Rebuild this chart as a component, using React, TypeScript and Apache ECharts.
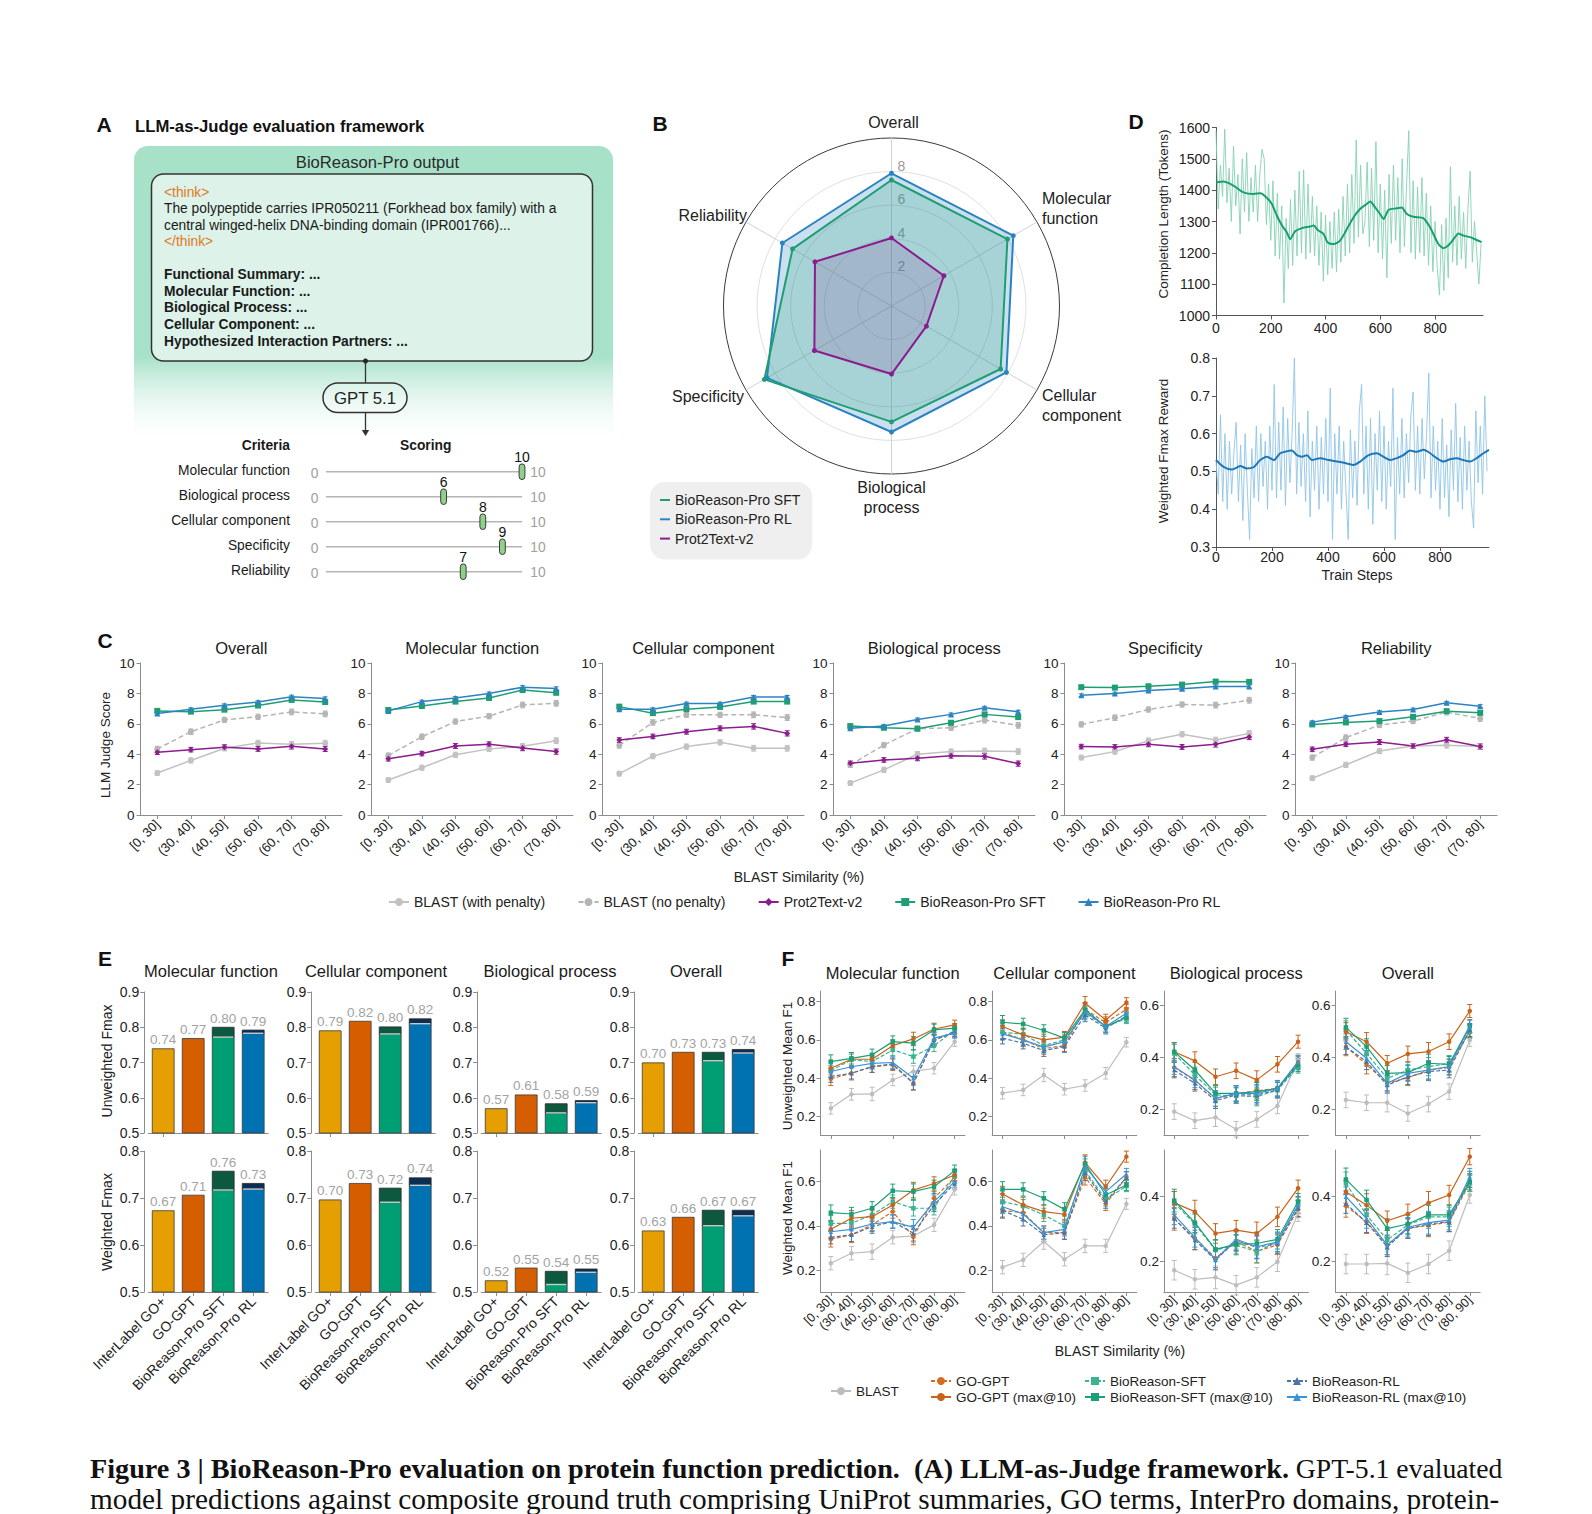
import React, { useEffect, useRef } from 'react';
import * as echarts from 'echarts';

const FONT = '"Liberation Sans", Arial, Helvetica, sans-serif';
const SERIF = '"Liberation Serif", "Times New Roman", Times, serif';

/* ---------------- Panel A ---------------- */
const A_THINK_LINES = [
  'The polypeptide carries IPR050211 (Forkhead box family) with a',
  'central winged-helix DNA-binding domain (IPR001766)...',
];
const A_SECTIONS = [
  'Functional Summary: ...',
  'Molecular Function: ...',
  'Biological Process: ...',
  'Cellular Component: ...',
  'Hypothesized Interaction Partners: ...',
];
const CRITERIA = ['Molecular function', 'Biological process', 'Cellular component', 'Specificity', 'Reliability'];
const CRITERIA_SCORES = [10, 6, 8, 9, 7];
const SCORE_MAX = 10;

/* ---------------- Panel B (radar) ---------------- */
const RADAR_AXES = ['Overall', 'Reliability', 'Specificity', 'Biological\nprocess', 'Cellular\ncomponent', 'Molecular\nfunction'];
const RADAR_SFT = [7.5, 6.8, 8.74, 6.9, 7.5, 7.97];
const RADAR_RL = [7.9, 7.5, 8.56, 7.5, 7.9, 8.37];
const RADAR_PROT = [4.05, 5.26, 5.3, 4.05, 2.4, 3.6];
const RADAR_TICKS = [2, 4, 6, 8];
const RADAR_MAX = 10;

/* ---------------- Panel C ---------------- */
const C_TITLES = ['Overall', 'Molecular function', 'Cellular component', 'Biological process', 'Specificity', 'Reliability'];
const C_CATS = ['[0, 30]', '(30, 40]', '(40, 50]', '(50, 60]', '(60, 70]', '(70, 80]'];
const C_BLAST_WP = [
  [2.76, 3.59, 4.39, 4.74, 4.65, 4.72],
  [2.3, 3.11, 3.96, 4.35, 4.52, 4.89],
  [2.72, 3.87, 4.5, 4.78, 4.39, 4.39],
  [2.1, 2.97, 4.0, 4.17, 4.21, 4.17],
  [3.78, 4.17, 4.89, 5.31, 4.93, 5.37],
  [2.42, 3.3, 4.21, 4.54, 4.59, 4.5],
];
const C_BLAST_NP = [
  [4.35, 5.48, 6.26, 6.46, 6.78, 6.65],
  [3.91, 5.15, 6.15, 6.5, 7.24, 7.35],
  [4.57, 6.09, 6.59, 6.59, 6.59, 6.41],
  [3.3, 4.6, 5.68, 5.74, 6.24, 5.9],
  [5.96, 6.4, 6.94, 7.27, 7.23, 7.55],
  [3.78, 5.09, 5.92, 6.18, 6.77, 6.35],
];
const C_PROT = [
  [4.13, 4.3, 4.46, 4.35, 4.52, 4.35],
  [3.7, 4.04, 4.54, 4.65, 4.41, 4.17],
  [4.93, 5.17, 5.48, 5.7, 5.83, 5.37],
  [3.4, 3.62, 3.73, 3.9, 3.86, 3.38],
  [4.5, 4.48, 4.65, 4.48, 4.65, 5.13],
  [4.32, 4.65, 4.8, 4.54, 4.93, 4.5],
];
const C_SFT = [
  [6.85, 6.8, 6.93, 7.2, 7.57, 7.43],
  [6.91, 7.17, 7.46, 7.7, 8.22, 8.04],
  [7.13, 6.7, 6.96, 7.11, 7.46, 7.46],
  [5.85, 5.74, 5.68, 6.07, 6.62, 6.44],
  [8.41, 8.38, 8.47, 8.58, 8.78, 8.76],
  [5.96, 6.09, 6.18, 6.46, 6.83, 6.72],
];
const C_RL = [
  [6.67, 6.96, 7.22, 7.43, 7.78, 7.67],
  [6.85, 7.46, 7.7, 8.0, 8.41, 8.33],
  [6.96, 6.96, 7.33, 7.33, 7.76, 7.76],
  [5.7, 5.85, 6.29, 6.62, 7.05, 6.79],
  [7.88, 7.99, 8.19, 8.3, 8.45, 8.45],
  [6.11, 6.46, 6.77, 6.94, 7.38, 7.16],
];
const C_ERR_WP = [0.15, 0.17, 0.17, 0.17, 0.19, 0.19];
const C_ERR_NP = [0.17, 0.18, 0.17, 0.17, 0.19, 0.19];
const C_ERR_PROT = [0.15, 0.15, 0.16, 0.16, 0.18, 0.17];
const C_ERR_SFT = [0.09, 0.09, 0.09, 0.09, 0.1, 0.1];
const C_ERR_RL = [0.09, 0.09, 0.09, 0.09, 0.1, 0.1];

/* ---------------- Panel D ---------------- */
const D_STEP = 8;
const D_LEN_RAW = [1590, 1340, 1480, 1380, 1595, 1360, 1470, 1300, 1540, 1350, 1450, 1260, 1500, 1330, 1520, 1300, 1440, 1330, 1480, 1300, 1450, 1530, 1500, 1290, 1420, 1240, 1430, 1190, 1390, 1180, 1350, 1040, 1310, 1150, 1370, 1160, 1400, 1190, 1460, 1200, 1465, 1180, 1420, 1200, 1380, 1190, 1350, 1160, 1330, 1110, 1320, 1130, 1300, 1150, 1330, 1140, 1340, 1170, 1380, 1190, 1420, 1200, 1450, 1230, 1560, 1250, 1480, 1260, 1300, 1490, 1220, 1470, 1240, 1555, 1200, 1420, 1180, 1400, 1120, 1450, 1230, 1480, 1240, 1440, 1200, 1500, 1220, 1420, 1590, 1200, 1430, 1180, 1410, 1200, 1440, 1190, 1390, 1160, 1350, 1140, 1300, 1150, 1065, 1290, 1080, 1310, 1120, 1475, 1170, 1350, 1160, 1380, 1180, 1330, 1150, 1340, 1460, 1170, 1300, 1200, 1100, 1230];
const D_LEN_SMOOTH_STEPS = [0, 28, 52, 70, 100, 137, 162, 186, 204, 222, 241, 259, 271, 289, 314, 344, 356, 374, 393, 407, 429, 453, 478, 502, 526, 551, 563, 581, 599, 612, 630, 660, 678, 697, 721, 757, 782, 812, 830, 849, 873, 885, 903, 928, 952, 970];
const D_LEN_SMOOTH = [1425, 1428, 1420, 1411, 1393, 1388, 1390, 1375, 1356, 1319, 1287, 1265, 1244, 1269, 1279, 1284, 1287, 1271, 1260, 1234, 1228, 1239, 1276, 1313, 1340, 1356, 1364, 1345, 1324, 1308, 1337, 1342, 1345, 1324, 1315, 1311, 1281, 1228, 1215, 1224, 1250, 1262, 1255, 1250, 1241, 1234];
const D_REW_RAW = [0.53, 0.44, 0.65, 0.42, 0.6, 0.4, 0.58, 0.44, 0.55, 0.63, 0.42, 0.57, 0.37, 0.6, 0.45, 0.32, 0.56, 0.43, 0.62, 0.42, 0.6, 0.46, 0.58, 0.4, 0.62, 0.45, 0.73, 0.43, 0.63, 0.45, 0.67, 0.41, 0.64, 0.47, 0.6, 0.8, 0.44, 0.63, 0.46, 0.6, 0.42, 0.66, 0.38, 0.58, 0.45, 0.62, 0.4, 0.59, 0.44, 0.64, 0.42, 0.72, 0.32, 0.6, 0.44, 0.62, 0.4, 0.58, 0.45, 0.32, 0.61, 0.43, 0.58, 0.41, 0.66, 0.73, 0.44, 0.62, 0.4, 0.64, 0.36, 0.6, 0.45, 0.66, 0.42, 0.62, 0.4, 0.58, 0.46, 0.72, 0.32, 0.59, 0.44, 0.64, 0.43, 0.6, 0.47, 0.65, 0.71, 0.45, 0.62, 0.44, 0.64, 0.48, 0.6, 0.76, 0.43, 0.62, 0.45, 0.58, 0.4, 0.64, 0.43, 0.57, 0.38, 0.61, 0.45, 0.68, 0.42, 0.59, 0.4, 0.62, 0.45, 0.58, 0.42, 0.35, 0.66, 0.47, 0.62, 0.44, 0.7, 0.5];
const D_REW_SMOOTH_STEPS = [0, 27, 57, 87, 110, 134, 158, 182, 206, 229, 247, 271, 289, 307, 325, 342, 372, 402, 432, 467, 491, 515, 545, 574, 598, 622, 646, 669, 693, 717, 741, 765, 788, 812, 836, 860, 883, 907, 931, 955, 975];
const D_REW_SMOOTH = [0.53, 0.512, 0.505, 0.514, 0.508, 0.511, 0.53, 0.539, 0.53, 0.548, 0.552, 0.555, 0.543, 0.539, 0.543, 0.53, 0.535, 0.53, 0.526, 0.521, 0.517, 0.526, 0.543, 0.548, 0.539, 0.53, 0.535, 0.543, 0.555, 0.552, 0.557, 0.548, 0.535, 0.526, 0.532, 0.535, 0.53, 0.526, 0.535, 0.548, 0.557];
const D_XTICKS = [0, 200, 400, 600, 800];

/* ---------------- Panel E ---------------- */
const E_TITLES = ['Molecular function', 'Cellular component', 'Biological process', 'Overall'];
const E_MODELS = ['InterLabel GO+', 'GO-GPT', 'BioReason-Pro SFT', 'BioReason-Pro RL'];
const E_IL_U = [0.739, 0.79, 0.569, 0.699];
const E_GO_U = [0.768, 0.817, 0.608, 0.729];
const E_SFT_U_BASE = [0.772, 0.781, 0.557, 0.705];
const E_SFT_U = [0.8, 0.801, 0.583, 0.729];
const E_RL_U_BASE = [0.783, 0.81, 0.586, 0.727];
const E_RL_U = [0.792, 0.824, 0.592, 0.737];
const E_IL_W = [0.673, 0.696, 0.524, 0.63];
const E_GO_W = [0.706, 0.731, 0.551, 0.659];
const E_SFT_W_BASE = [0.717, 0.691, 0.516, 0.641];
const E_SFT_W = [0.757, 0.721, 0.544, 0.674];
const E_RL_W_BASE = [0.719, 0.727, 0.542, 0.662];
const E_RL_W = [0.731, 0.743, 0.549, 0.674];

/* ---------------- Panel F ---------------- */
const F_TITLES = ['Molecular function', 'Cellular component', 'Biological process', 'Overall'];
const F_CATS = ['[0, 30]', '(30, 40]', '(40, 50]', '(50, 60]', '(60, 70]', '(70, 80]', '(80, 90]'];
// rows: unweighted MF, CC, BP, Overall, weighted MF, CC, BP, Overall
const F_BLAST = [
  [0.243, 0.316, 0.318, 0.391, 0.435, 0.452, 0.591],
  [0.322, 0.339, 0.417, 0.343, 0.362, 0.426, 0.588],
  [0.19, 0.155, 0.168, 0.122, 0.16, 0.212, 0.388],
  [0.235, 0.224, 0.224, 0.183, 0.219, 0.267, 0.465],
  [0.232, 0.277, 0.284, 0.349, 0.355, 0.405, 0.565],
  [0.214, 0.247, 0.33, 0.25, 0.31, 0.31, 0.5],
  [0.172, 0.144, 0.15, 0.126, 0.15, 0.198, 0.347],
  [0.191, 0.191, 0.193, 0.164, 0.191, 0.232, 0.403],
];
const F_GO = [
  [0.397, 0.426, 0.46, 0.47, 0.374, 0.6, 0.635],
  [0.64, 0.6, 0.555, 0.57, 0.76, 0.69, 0.76],
  [0.36, 0.31, 0.24, 0.26, 0.27, 0.28, 0.38],
  [0.44, 0.37, 0.3, 0.32, 0.35, 0.36, 0.5],
  [0.34, 0.36, 0.405, 0.465, 0.35, 0.525, 0.62],
  [0.47, 0.46, 0.37, 0.37, 0.62, 0.5, 0.62],
  [0.33, 0.27, 0.21, 0.26, 0.23, 0.25, 0.36],
  [0.37, 0.32, 0.25, 0.3, 0.31, 0.32, 0.44],
];
const F_GO_MAX = [
  [0.452, 0.499, 0.499, 0.57, 0.605, 0.657, 0.678],
  [0.67, 0.626, 0.6, 0.614, 0.791, 0.704, 0.795],
  [0.42, 0.385, 0.324, 0.347, 0.312, 0.372, 0.459],
  [0.497, 0.459, 0.376, 0.412, 0.421, 0.459, 0.577],
  [0.385, 0.435, 0.442, 0.495, 0.562, 0.592, 0.63],
  [0.544, 0.495, 0.465, 0.453, 0.686, 0.577, 0.713],
  [0.379, 0.352, 0.285, 0.295, 0.285, 0.336, 0.424],
  [0.413, 0.372, 0.324, 0.345, 0.379, 0.403, 0.521],
];
const F_SFT = [
  [0.44, 0.496, 0.487, 0.548, 0.513, 0.569, 0.652],
  [0.64, 0.63, 0.57, 0.6, 0.74, 0.67, 0.71],
  [0.414, 0.331, 0.254, 0.251, 0.247, 0.273, 0.363],
  [0.504, 0.414, 0.318, 0.35, 0.363, 0.376, 0.497],
  [0.412, 0.412, 0.45, 0.51, 0.48, 0.48, 0.626],
  [0.51, 0.49, 0.45, 0.4, 0.65, 0.52, 0.58],
  [0.379, 0.314, 0.234, 0.249, 0.229, 0.259, 0.372],
  [0.439, 0.342, 0.265, 0.311, 0.336, 0.336, 0.439],
];
const F_SFT_MAX = [
  [0.487, 0.504, 0.522, 0.591, 0.583, 0.652, 0.661],
  [0.692, 0.683, 0.649, 0.609, 0.757, 0.67, 0.717],
  [0.42, 0.35, 0.26, 0.26, 0.267, 0.279, 0.369],
  [0.514, 0.44, 0.337, 0.34, 0.376, 0.372, 0.519],
  [0.46, 0.454, 0.48, 0.559, 0.555, 0.577, 0.65],
  [0.565, 0.565, 0.525, 0.475, 0.68, 0.54, 0.585],
  [0.386, 0.318, 0.236, 0.252, 0.254, 0.267, 0.383],
  [0.451, 0.388, 0.3, 0.314, 0.342, 0.342, 0.444],
];
const F_RL = [
  [0.409, 0.426, 0.461, 0.475, 0.374, 0.6, 0.643],
  [0.609, 0.583, 0.544, 0.565, 0.73, 0.661, 0.725],
  [0.35, 0.299, 0.232, 0.254, 0.254, 0.273, 0.376],
  [0.44, 0.382, 0.292, 0.324, 0.344, 0.35, 0.504],
  [0.349, 0.36, 0.397, 0.42, 0.367, 0.495, 0.592],
  [0.47, 0.43, 0.36, 0.37, 0.64, 0.51, 0.62],
  [0.331, 0.265, 0.203, 0.263, 0.242, 0.254, 0.362],
  [0.377, 0.318, 0.244, 0.3, 0.314, 0.321, 0.451],
];
const F_RL_MAX = [
  [0.435, 0.46, 0.478, 0.482, 0.4, 0.609, 0.635],
  [0.631, 0.6, 0.562, 0.591, 0.748, 0.67, 0.739],
  [0.363, 0.312, 0.241, 0.26, 0.26, 0.279, 0.382],
  [0.459, 0.395, 0.299, 0.337, 0.35, 0.363, 0.517],
  [0.374, 0.385, 0.409, 0.42, 0.394, 0.51, 0.6],
  [0.487, 0.454, 0.37, 0.385, 0.668, 0.555, 0.635],
  [0.342, 0.273, 0.205, 0.267, 0.244, 0.259, 0.372],
  [0.398, 0.331, 0.249, 0.304, 0.318, 0.326, 0.46],
];
const F_ERR_BLAST = [0.03, 0.03, 0.035, 0.03, 0.03, 0.03, 0.025];
const F_ERR_GO = [0.035, 0.035, 0.03, 0.03, 0.035, 0.03, 0.025];
const F_ERR_SFT = [0.035, 0.03, 0.03, 0.03, 0.035, 0.03, 0.025];
const F_ERR_RL = [0.03, 0.03, 0.03, 0.03, 0.035, 0.03, 0.025];
const F_YMIN = [0.104, 0.104, 0.1, 0.1, 0.102, 0.102, 0.105, 0.105];
const F_YMAX = [0.855, 0.855, 0.654, 0.654, 0.743, 0.743, 0.5415, 0.5415];
const F_YTICKS = [
  [0.2, 0.4, 0.6, 0.8], [0.2, 0.4, 0.6, 0.8], [0.2, 0.4, 0.6], [0.2, 0.4, 0.6],
  [0.2, 0.4, 0.6], [0.2, 0.4, 0.6], [0.2, 0.4], [0.2, 0.4],
];

/* ---------------- Caption ---------------- */
const CAPTION_BOLD = 'Figure 3 | BioReason-Pro evaluation on protein function prediction.  (A) LLM-as-Judge framework.';
const CAPTION_REST = ' GPT-5.1 evaluated';
const CAPTION_LINE2 = 'model predictions against composite ground truth comprising UniProt summaries, GO terms, InterPro domains, protein-';

/* ---------------- styling ---------------- */
const COL_SFT = '#1f9e75';
const COL_RL = '#2c83c1';
const COL_PROT = '#8b1d8d';
const E_COLORS = ['#E69F00', '#D55E00', '#009E73', '#0072B2'];
const E_DARK = ['#E69F00', '#D55E00', '#0c5940', '#0b2f52'];
const AX = '#8c8c8c';

const txt = (x: number, y: number, text: string, o: any = {}) => ({
  type: 'text',
  x,
  y,
  rotation: o.rot || 0,
  silent: true,
  style: {
    text,
    fill: o.fill || '#222',
    fontSize: o.size || 14,
    fontFamily: o.family || FONT,
    fontWeight: o.weight || 'normal',
    textAlign: o.align || 'left',
    textVerticalAlign: o.valign || 'middle',
    lineHeight: o.lh,
  },
});

function makeErrRender(colors: string[]) {
  return (params: any, api: any) => {
    const k = api.value(0);
    const v = api.value(1);
    const e = api.value(2);
    const si = api.value(3);
    const a = api.coord([k, v - e]);
    const b = api.coord([k, v + e]);
    const c = colors[si];
    const cap = 2.5;
    return {
      type: 'group',
      children: [
        { type: 'line', shape: { x1: a[0], y1: a[1], x2: b[0], y2: b[1] }, style: { stroke: c, lineWidth: 1 } },
        { type: 'line', shape: { x1: a[0] - cap, y1: a[1], x2: a[0] + cap, y2: a[1] }, style: { stroke: c, lineWidth: 1 } },
        { type: 'line', shape: { x1: b[0] - cap, y1: b[1], x2: b[0] + cap, y2: b[1] }, style: { stroke: c, lineWidth: 1 } },
      ],
    };
  };
}

function makeBarRender(yMin: number) {
  return (params: any, api: any) => {
    const k = api.value(0);
    const lo = api.value(1);
    const hi = api.value(2);
    const ci = api.value(3);
    const base = api.coord([k, yMin]);
    const pLo = api.coord([k, lo]);
    const pHi = api.coord([k, hi]);
    const bw = api.size([1, 0])[0] * 0.73;
    const x0 = base[0] - bw / 2;
    const children: any[] = [
      { type: 'rect', shape: { x: x0, y: pLo[1], width: bw, height: base[1] - pLo[1] }, style: { fill: E_COLORS[ci], stroke: '#3a3a3a', lineWidth: 0.8 } },
    ];
    if (hi > lo + 1e-9) {
      children.push({ type: 'rect', shape: { x: x0, y: pHi[1], width: bw, height: pLo[1] - pHi[1] }, style: { fill: E_DARK[ci], stroke: '#2a2a2a', lineWidth: 0.8 } });
      children.push({ type: 'line', shape: { x1: x0 + 0.8, y1: pLo[1], x2: x0 + bw - 0.8, y2: pLo[1] }, style: { stroke: 'rgba(255,255,255,0.75)', lineWidth: 1.4 } });
    }
    children.push({
      type: 'text',
      x: base[0],
      y: pHi[1] - 2,
      style: { text: hi.toFixed(2), fill: '#a3a3a3', fontSize: 13.5, fontFamily: FONT, textAlign: 'center', textVerticalAlign: 'bottom' },
    });
    return { type: 'group', children };
  };
}

function buildOption() {
  const grid: any[] = [];
  const xAxis: any[] = [];
  const yAxis: any[] = [];
  const series: any[] = [];
  const g: any[] = [];

  const axisLineS = (c = AX) => ({ show: true, lineStyle: { color: c, width: 1 } });
  const tickS = (c = AX) => ({ show: true, length: 4, lineStyle: { color: c, width: 1 } });
  const labelS = (fs: number) => ({ color: '#222', fontSize: fs, fontFamily: FONT });

  /* ===== Panel A ===== */
  const AF = 13.8;
  g.push(txt(104, 124, 'A', { size: 21, weight: 'bold', align: 'center', fill: '#111' }));
  g.push(txt(135, 126, 'LLM-as-Judge evaluation framework', { size: 16.7, weight: 'bold', fill: '#111' }));
  g.push({
    type: 'rect',
    silent: true,
    shape: { x: 134, y: 146, width: 479, height: 302, r: 14 },
    style: {
      fill: new echarts.graphic.LinearGradient(0, 0, 0, 1, [
        { offset: 0, color: '#a7e1c8' },
        { offset: 0.7, color: '#a9e2ca' },
        { offset: 1, color: 'rgba(255,255,255,0)' },
      ]),
    },
  });
  g.push(txt(377.5, 162, 'BioReason-Pro output', { size: 16.6, align: 'center', fill: '#2a2a2a' }));
  g.push({
    type: 'rect',
    silent: true,
    shape: { x: 151.5, y: 174, width: 441, height: 187, r: 12 },
    style: { fill: '#ddf2e9', stroke: '#333', lineWidth: 1.5 },
  });
  g.push(txt(164, 192, '<think>', { size: AF, fill: '#e07a1c' }));
  A_THINK_LINES.forEach((t, i) => g.push(txt(164, 208.5 + i * 16.5, t, { size: AF, fill: '#1a1a1a' })));
  g.push(txt(164, 241.5, '</think>', { size: AF, fill: '#e07a1c' }));
  A_SECTIONS.forEach((t, i) => g.push(txt(164, 274.5 + i * 16.7, t, { size: AF, weight: 'bold', fill: '#1a1a1a' })));
  g.push({ type: 'circle', silent: true, shape: { cx: 365.5, cy: 361, r: 2.5 }, style: { fill: '#222' } });
  g.push({ type: 'line', silent: true, shape: { x1: 365.5, y1: 361, x2: 365.5, y2: 383 }, style: { stroke: '#333', lineWidth: 1.3 } });
  g.push({
    type: 'rect',
    silent: true,
    shape: { x: 323, y: 383, width: 84, height: 29.5, r: 14.75 },
    style: { fill: 'rgba(255,255,255,0.15)', stroke: '#333', lineWidth: 1.5 },
  });
  g.push(txt(365, 398, 'GPT 5.1', { size: 16.8, align: 'center', fill: '#222' }));
  g.push({ type: 'line', silent: true, shape: { x1: 365.5, y1: 412.5, x2: 365.5, y2: 431 }, style: { stroke: '#333', lineWidth: 1.3 } });
  g.push({ type: 'polygon', silent: true, shape: { points: [[361.8, 430], [369.2, 430], [365.5, 436]] }, style: { fill: '#333' } });
  g.push(txt(290, 445.5, 'Criteria', { size: AF, weight: 'bold', align: 'right', fill: '#1a1a1a' }));
  g.push(txt(425.7, 445.5, 'Scoring', { size: AF, weight: 'bold', align: 'center', fill: '#1a1a1a' }));
  const trackX0 = 326;
  const trackX1 = 522;
  CRITERIA.forEach((name, i) => {
    const y = 471.7 + i * 25;
    g.push(txt(290, y - 1.5, name, { size: AF, align: 'right', fill: '#1a1a1a' }));
    g.push(txt(314.5, y + 1.5, '0', { size: AF, align: 'center', fill: '#a0a0a0' }));
    g.push(txt(538, y + 1, '10', { size: AF, align: 'center', fill: '#a0a0a0' }));
    g.push({ type: 'line', silent: true, shape: { x1: trackX0, y1: y, x2: trackX1, y2: y }, style: { stroke: '#b5b5b5', lineWidth: 1.5 } });
    const xv = trackX0 + ((trackX1 - trackX0) * CRITERIA_SCORES[i]) / SCORE_MAX;
    g.push({
      type: 'rect',
      silent: true,
      shape: { x: xv - 2.9, y: y - 7.8, width: 5.8, height: 15.6, r: 2.9 },
      style: { fill: '#8fd18b', stroke: '#3a3a3a', lineWidth: 1 },
    });
    g.push(txt(xv, y - 14.5, String(CRITERIA_SCORES[i]), { size: 14, align: 'center', fill: '#111' }));
  });

  /* ===== Panel B ===== */
  const RCX = 891.5;
  const RCY = 306;
  const RR = 168;
  g.push(txt(660, 123, 'B', { size: 21, weight: 'bold', align: 'center', fill: '#111' }));
  RADAR_TICKS.forEach((v) => {
    g.push(txt(RCX + 10, RCY - (RR * v) / RADAR_MAX - 6, String(v), { size: 14, align: 'center', fill: '#9a9a9a' }));
  });
  // radar axis names
  g.push(txt(893.5, 122, 'Overall', { size: 16, align: 'center' }));
  g.push(txt(1042, 208, 'Molecular\nfunction', { size: 16, align: 'left', lh: 20 }));
  g.push(txt(1042, 405, 'Cellular\ncomponent', { size: 16, align: 'left', lh: 20 }));
  g.push(txt(891.5, 497, 'Biological\nprocess', { size: 16, align: 'center', lh: 20 }));
  g.push(txt(744, 396, 'Specificity', { size: 16, align: 'right' }));
  g.push(txt(747, 215, 'Reliability', { size: 16, align: 'right' }));

  /* ===== Panel C ===== */
  const C_LEFT0 = 140.5;
  const C_DX = 231;
  const C_W = 201.5;
  const C_TOP = 663;
  const C_H = 152;
  g.push(txt(105, 640, 'C', { size: 21, weight: 'bold', align: 'center', fill: '#111' }));
  g.push(txt(105.6, 745, 'LLM Judge Score', { size: 13.5, align: 'center', rot: Math.PI / 2 }));
  g.push(txt(799, 877, 'BLAST Similarity (%)', { size: 14, align: 'center' }));
  C_TITLES.forEach((title, i) => {
    const gi = grid.length;
    const left = C_LEFT0 + C_DX * i;
    grid.push({ left, top: C_TOP, width: C_W, height: C_H });
    g.push(txt(left + C_W / 2, 648, title, { size: 16.5, align: 'center', fill: '#1a1a1a' }));
    xAxis.push({
      type: 'category', gridIndex: gi, data: C_CATS, boundaryGap: true,
      axisLine: axisLineS(), axisTick: { ...tickS(), alignWithLabel: true },
      axisLabel: { ...labelS(13), rotate: 45, margin: 7, interval: 0 }, splitLine: { show: false },
    });
    yAxis.push({
      type: 'value', gridIndex: gi, min: 0, max: 10, interval: 2,
      axisLine: axisLineS(), axisTick: tickS(), axisLabel: { ...labelS(13.5), margin: 6 }, splitLine: { show: false },
    });
    const defs = [
      { name: 'BLAST (with penalty)', data: C_BLAST_WP[i], err: C_ERR_WP, color: '#c2c2c2', type: 'solid', symbol: 'circle', size: 6 },
      { name: 'BLAST (no penalty)', data: C_BLAST_NP[i], err: C_ERR_NP, color: '#b5b5b5', type: [5, 3], symbol: 'circle', size: 6 },
      { name: 'Prot2Text-v2', data: C_PROT[i], err: C_ERR_PROT, color: COL_PROT, type: 'solid', symbol: 'diamond', size: 6 },
      { name: 'BioReason-Pro SFT', data: C_SFT[i], err: C_ERR_SFT, color: COL_SFT, type: 'solid', symbol: 'rect', size: 6 },
      { name: 'BioReason-Pro RL', data: C_RL[i], err: C_ERR_RL, color: COL_RL, type: 'solid', symbol: 'triangle', size: 6 },
    ];
    series.push({
      type: 'custom', xAxisIndex: gi, yAxisIndex: gi, silent: true, z: 1,
      encode: { x: 0, y: 1 },
      renderItem: makeErrRender(defs.map((d) => d.color)),
      data: defs.flatMap((d, si) => d.data.map((v, k) => [k, v, d.err[k], si])),
    });
    defs.forEach((d) => {
      series.push({
        type: 'line', name: d.name, xAxisIndex: gi, yAxisIndex: gi, data: d.data,
        symbol: d.symbol, symbolSize: d.size, showSymbol: true,
        lineStyle: { color: d.color, width: 1.5, type: d.type }, itemStyle: { color: d.color }, z: 3,
      });
    });
  });

  /* ===== Panel D ===== */
  g.push(txt(1136, 121, 'D', { size: 21, weight: 'bold', align: 'center', fill: '#111' }));
  g.push(txt(1163, 214, 'Completion Length (Tokens)', { size: 13.5, align: 'center', rot: Math.PI / 2 }));
  g.push(txt(1163, 451, 'Weighted Fmax Reward', { size: 13.5, align: 'center', rot: Math.PI / 2 }));
  g.push(txt(1357, 575, 'Train Steps', { size: 14, align: 'center' }));
  const DAX = '#555';
  const dGrids = [
    { left: 1216, top: 127.5, width: 267, height: 188, min: 1000, max: 1600, interval: 100 },
    { left: 1216, top: 358, width: 273, height: 189, min: 0.3, max: 0.8, interval: 0.1 },
  ];
  dGrids.forEach((d, j) => {
    const gi = grid.length;
    grid.push({ left: d.left, top: d.top, width: d.width, height: d.height });
    xAxis.push({
      type: 'value', gridIndex: gi, min: 0, max: 975,
      axisLine: axisLineS(DAX), axisTick: { ...tickS(DAX), customValues: D_XTICKS },
      axisLabel: { ...labelS(14), margin: j === 0 ? 5 : 3, customValues: D_XTICKS, formatter: (v: number) => String(v) },
      splitLine: { show: false },
    });
    yAxis.push({
      type: 'value', gridIndex: gi, min: d.min, max: d.max, interval: d.interval,
      axisLine: axisLineS(DAX), axisTick: tickS(DAX),
      axisLabel: { ...labelS(14), margin: 6, formatter: (v: number) => (j === 0 ? String(Math.round(v)) : v.toFixed(1)) },
      splitLine: { show: false },
    });
    const raw = j === 0 ? D_LEN_RAW : D_REW_RAW;
    const smSteps = j === 0 ? D_LEN_SMOOTH_STEPS : D_REW_SMOOTH_STEPS;
    const sm = j === 0 ? D_LEN_SMOOTH : D_REW_SMOOTH;
    series.push({
      type: 'line', xAxisIndex: gi, yAxisIndex: gi, symbol: 'none', silent: true,
      data: raw.map((v, k) => [k * D_STEP, v]),
      lineStyle: { color: j === 0 ? '#84d2b1' : '#8fc5e6', width: 0.9 },
    });
    series.push({
      type: 'line', xAxisIndex: gi, yAxisIndex: gi, symbol: 'none', silent: true, smooth: 0.25,
      data: sm.map((v, k) => [smSteps[k], v]),
      lineStyle: { color: j === 0 ? '#17a06d' : '#1f77b4', width: 2 },
    });
  });

  /* ===== Panel E ===== */
  const E_YAXIS_X = [144.2, 311.2, 477.2, 634.2];
  const E_TITLE_X = [211, 376, 550, 696];
  g.push(txt(105, 958, 'E', { size: 21, weight: 'bold', align: 'center', fill: '#111' }));
  g.push(txt(106.6, 1061, 'Unweighted Fmax', { size: 14, align: 'center', rot: Math.PI / 2 }));
  g.push(txt(106.6, 1222, 'Weighted Fmax', { size: 14, align: 'center', rot: Math.PI / 2 }));
  E_TITLES.forEach((t, c) => g.push(txt(E_TITLE_X[c], 971, t, { size: 16.5, align: 'center', fill: '#1a1a1a' })));
  for (let r = 0; r < 2; r++) {
    for (let c = 0; c < 4; c++) {
      const gi = grid.length;
      const yMax = r === 0 ? 0.9 : 0.8;
      grid.push({ left: E_YAXIS_X[c] + 4, top: r === 0 ? 992 : 1151, width: 120, height: 141 });
      xAxis.push({
        type: 'category', gridIndex: gi, data: E_MODELS, boundaryGap: true,
        axisLine: axisLineS(), axisTick: { ...tickS(), alignWithLabel: true },
        axisLabel: r === 1 ? { ...labelS(14), rotate: 45, margin: 7, interval: 0 } : { show: false },
        splitLine: { show: false },
      });
      yAxis.push({
        type: 'value', gridIndex: gi, min: 0.5, max: yMax, interval: 0.1, offset: 4,
        axisLine: axisLineS(), axisTick: tickS(), axisLabel: { ...labelS(14), margin: 5 }, splitLine: { show: false },
      });
      const tops = r === 0 ? [E_IL_U, E_GO_U, E_SFT_U, E_RL_U] : [E_IL_W, E_GO_W, E_SFT_W, E_RL_W];
      const bases = r === 0 ? [E_IL_U, E_GO_U, E_SFT_U_BASE, E_RL_U_BASE] : [E_IL_W, E_GO_W, E_SFT_W_BASE, E_RL_W_BASE];
      series.push({
        type: 'custom', xAxisIndex: gi, yAxisIndex: gi, silent: true,
        encode: { x: 0, y: 2 },
        renderItem: makeBarRender(0.5),
        data: tops.map((arr, k) => [k, bases[k][c], arr[c], k]),
      });
    }
  }

  /* ===== Panel F ===== */
  const F_LEFT0 = 820.5;
  const F_DX = 171.7;
  const F_W = 144.5;
  g.push(txt(788, 958, 'F', { size: 21, weight: 'bold', align: 'center', fill: '#111' }));
  g.push(txt(787, 1066, 'Unweighted Mean F1', { size: 13.5, align: 'center', rot: Math.PI / 2 }));
  g.push(txt(787, 1218, 'Weighted Mean F1', { size: 13.5, align: 'center', rot: Math.PI / 2 }));
  g.push(txt(1120, 1351, 'BLAST Similarity (%)', { size: 14, align: 'center' }));
  F_TITLES.forEach((t, c) => g.push(txt(F_LEFT0 + F_DX * c + F_W / 2, 973, t, { size: 16.5, align: 'center', fill: '#1a1a1a' })));
  const fDefs = [
    { name: 'BLAST', rows: F_BLAST, err: F_ERR_BLAST, color: '#bdbdbd', type: 'solid', symbol: 'circle' },
    { name: 'GO-GPT', rows: F_GO, err: F_ERR_GO, color: '#d36c22', type: [4, 2], symbol: 'circle' },
    { name: 'BioReason-SFT', rows: F_SFT, err: F_ERR_SFT, color: '#3ab38e', type: [4, 2], symbol: 'rect' },
    { name: 'BioReason-RL', rows: F_RL, err: F_ERR_RL, color: '#4c73a3', type: [4, 2], symbol: 'triangle' },
    { name: 'GO-GPT (max@10)', rows: F_GO_MAX, err: F_ERR_GO, color: '#c9621a', type: 'solid', symbol: 'circle' },
    { name: 'BioReason-SFT (max@10)', rows: F_SFT_MAX, err: F_ERR_SFT, color: '#1c9f78', type: 'solid', symbol: 'rect' },
    { name: 'BioReason-RL (max@10)', rows: F_RL_MAX, err: F_ERR_RL, color: '#3a93d6', type: 'solid', symbol: 'triangle' },
  ];
  for (let r = 0; r < 2; r++) {
    for (let c = 0; c < 4; c++) {
      const gi = grid.length;
      const idx = r * 4 + c;
      grid.push({ left: F_LEFT0 + F_DX * c, top: r === 0 ? 991 : 1150, width: F_W, height: r === 0 ? 144 : 142 });
      xAxis.push({
        type: 'category', gridIndex: gi, data: F_CATS, boundaryGap: true,
        axisLine: axisLineS(), axisTick: { ...tickS(), alignWithLabel: true },
        axisLabel: r === 1 ? { ...labelS(12.5), rotate: 45, margin: 6, interval: 0 } : { show: false },
        splitLine: { show: false },
      });
      yAxis.push({
        type: 'value', gridIndex: gi, min: F_YMIN[idx], max: F_YMAX[idx],
        axisLine: axisLineS(), axisTick: { ...tickS(), customValues: F_YTICKS[idx] },
        axisLabel: { ...labelS(13.5), margin: 5, customValues: F_YTICKS[idx] }, splitLine: { show: false },
      });
      series.push({
        type: 'custom', xAxisIndex: gi, yAxisIndex: gi, silent: true, z: 1,
        encode: { x: 0, y: 1 },
        renderItem: makeErrRender(fDefs.map((d) => d.color)),
        data: fDefs.flatMap((d, si) => d.rows[idx].map((v, k) => [k, v, d.err[k], si])),
      });
      fDefs.forEach((d, si) => {
        series.push({
          type: 'line', name: d.name, xAxisIndex: gi, yAxisIndex: gi, data: d.rows[idx],
          symbol: d.symbol, symbolSize: 4.5, showSymbol: true,
          lineStyle: { color: d.color, width: 1.2, type: d.type }, itemStyle: { color: d.color }, z: 2 + si * 0.1,
        });
      });
    }
  }

  /* ===== Radar series ===== */
  series.push({
    type: 'radar',
    radarIndex: 0,
    silent: true,
    data: [
      { name: 'BioReason-Pro RL', value: RADAR_RL, symbol: 'circle', symbolSize: 5, lineStyle: { color: COL_RL, width: 2 }, itemStyle: { color: COL_RL }, areaStyle: { color: COL_RL, opacity: 0.25 } },
      { name: 'BioReason-Pro SFT', value: RADAR_SFT, symbol: 'circle', symbolSize: 5, lineStyle: { color: COL_SFT, width: 2 }, itemStyle: { color: COL_SFT }, areaStyle: { color: COL_SFT, opacity: 0.2 } },
      { name: 'Prot2Text-v2', value: RADAR_PROT, symbol: 'circle', symbolSize: 5, lineStyle: { color: COL_PROT, width: 2 }, itemStyle: { color: COL_PROT }, areaStyle: { color: COL_PROT, opacity: 0.15 } },
    ],
  });

  /* ===== Caption ===== */
  g.push({
    type: 'text', x: 90, y: 1468, silent: true,
    style: {
      text: '{b|' + CAPTION_BOLD + '}{r|' + CAPTION_REST + '}',
      fill: '#111', fontSize: 28, fontFamily: SERIF, textVerticalAlign: 'middle',
      rich: {
        b: { fontWeight: 'bold', fontSize: 28.2, fontFamily: SERIF, fill: '#111' },
        r: { fontWeight: 'normal', fontSize: 27.7, fontFamily: SERIF, fill: '#111' },
      },
    },
  });
  g.push(txt(90, 1499, CAPTION_LINE2, { size: 29.3, family: SERIF, fill: '#111' }));

  return {
    animation: false,
    backgroundColor: '#ffffff',
    textStyle: { fontFamily: FONT },
    grid,
    xAxis,
    yAxis,
    radar: {
      center: [RCX, RCY],
      radius: RR,
      startAngle: 90,
      splitNumber: 5,
      shape: 'circle',
      indicator: RADAR_AXES.map((n) => ({ name: n, min: 0, max: RADAR_MAX })),
      axisName: { show: false },
      splitLine: { lineStyle: { color: ['#e0e0e0', '#e0e0e0', '#e0e0e0', '#e0e0e0', '#e0e0e0', '#3a3a3a'], width: 1 } },
      splitArea: { show: false },
      axisLine: { lineStyle: { color: '#d2d2d2' } },
      axisTick: { show: false },
      axisLabel: { show: false },
    },
    legend: [
      {
        orient: 'vertical', left: 650, top: 482, padding: [11, 12, 14, 10], itemGap: 5.3,
        itemWidth: 10, itemHeight: 2, backgroundColor: '#efefef', borderRadius: 15, selectedMode: false,
        textStyle: { fontSize: 14, color: '#222', fontFamily: FONT },
        data: [
          { name: 'BioReason-Pro SFT', icon: 'rect' },
          { name: 'BioReason-Pro RL', icon: 'rect' },
          { name: 'Prot2Text-v2', icon: 'rect' },
        ],
      },
      {
        orient: 'horizontal', left: 383, top: 890, itemGap: 32, itemWidth: 20, itemHeight: 10, selectedMode: false,
        textStyle: { fontSize: 14, color: '#222', fontFamily: FONT },
        data: ['BLAST (with penalty)', 'BLAST (no penalty)', 'Prot2Text-v2', 'BioReason-Pro SFT', 'BioReason-Pro RL'],
      },
      {
        orient: 'vertical', left: 825, top: 1379, itemWidth: 20, itemHeight: 10, selectedMode: false,
        textStyle: { fontSize: 13.5, color: '#222', fontFamily: FONT },
        data: ['BLAST'],
      },
      {
        orient: 'vertical', left: 925, top: 1369, itemGap: 2, itemWidth: 20, itemHeight: 10, selectedMode: false,
        textStyle: { fontSize: 13.5, color: '#222', fontFamily: FONT },
        data: ['GO-GPT', 'GO-GPT (max@10)'],
      },
      {
        orient: 'vertical', left: 1079, top: 1369, itemGap: 2, itemWidth: 20, itemHeight: 10, selectedMode: false,
        textStyle: { fontSize: 13.5, color: '#222', fontFamily: FONT },
        data: ['BioReason-SFT', 'BioReason-SFT (max@10)'],
      },
      {
        orient: 'vertical', left: 1281, top: 1369, itemGap: 2, itemWidth: 20, itemHeight: 10, selectedMode: false,
        textStyle: { fontSize: 13.5, color: '#222', fontFamily: FONT },
        data: ['BioReason-RL', 'BioReason-RL (max@10)'],
      },
    ],
    series,
    graphic: { elements: g },
  };
}

export default function App() {
  const ref = useRef<HTMLDivElement>(null);
  useEffect(() => {
    if (!ref.current) return;
    const chart = echarts.init(ref.current, null, { renderer: 'svg', width: 1592, height: 1514 });
    chart.setOption(buildOption() as any);
    return () => {
      chart.dispose();
    };
  }, []);
  return (
    <div
      ref={ref}
      style={{ position: 'absolute', left: 0, top: 0, width: 1592, height: 1514, background: '#fff', overflow: 'hidden' }}
    />
  );
}
